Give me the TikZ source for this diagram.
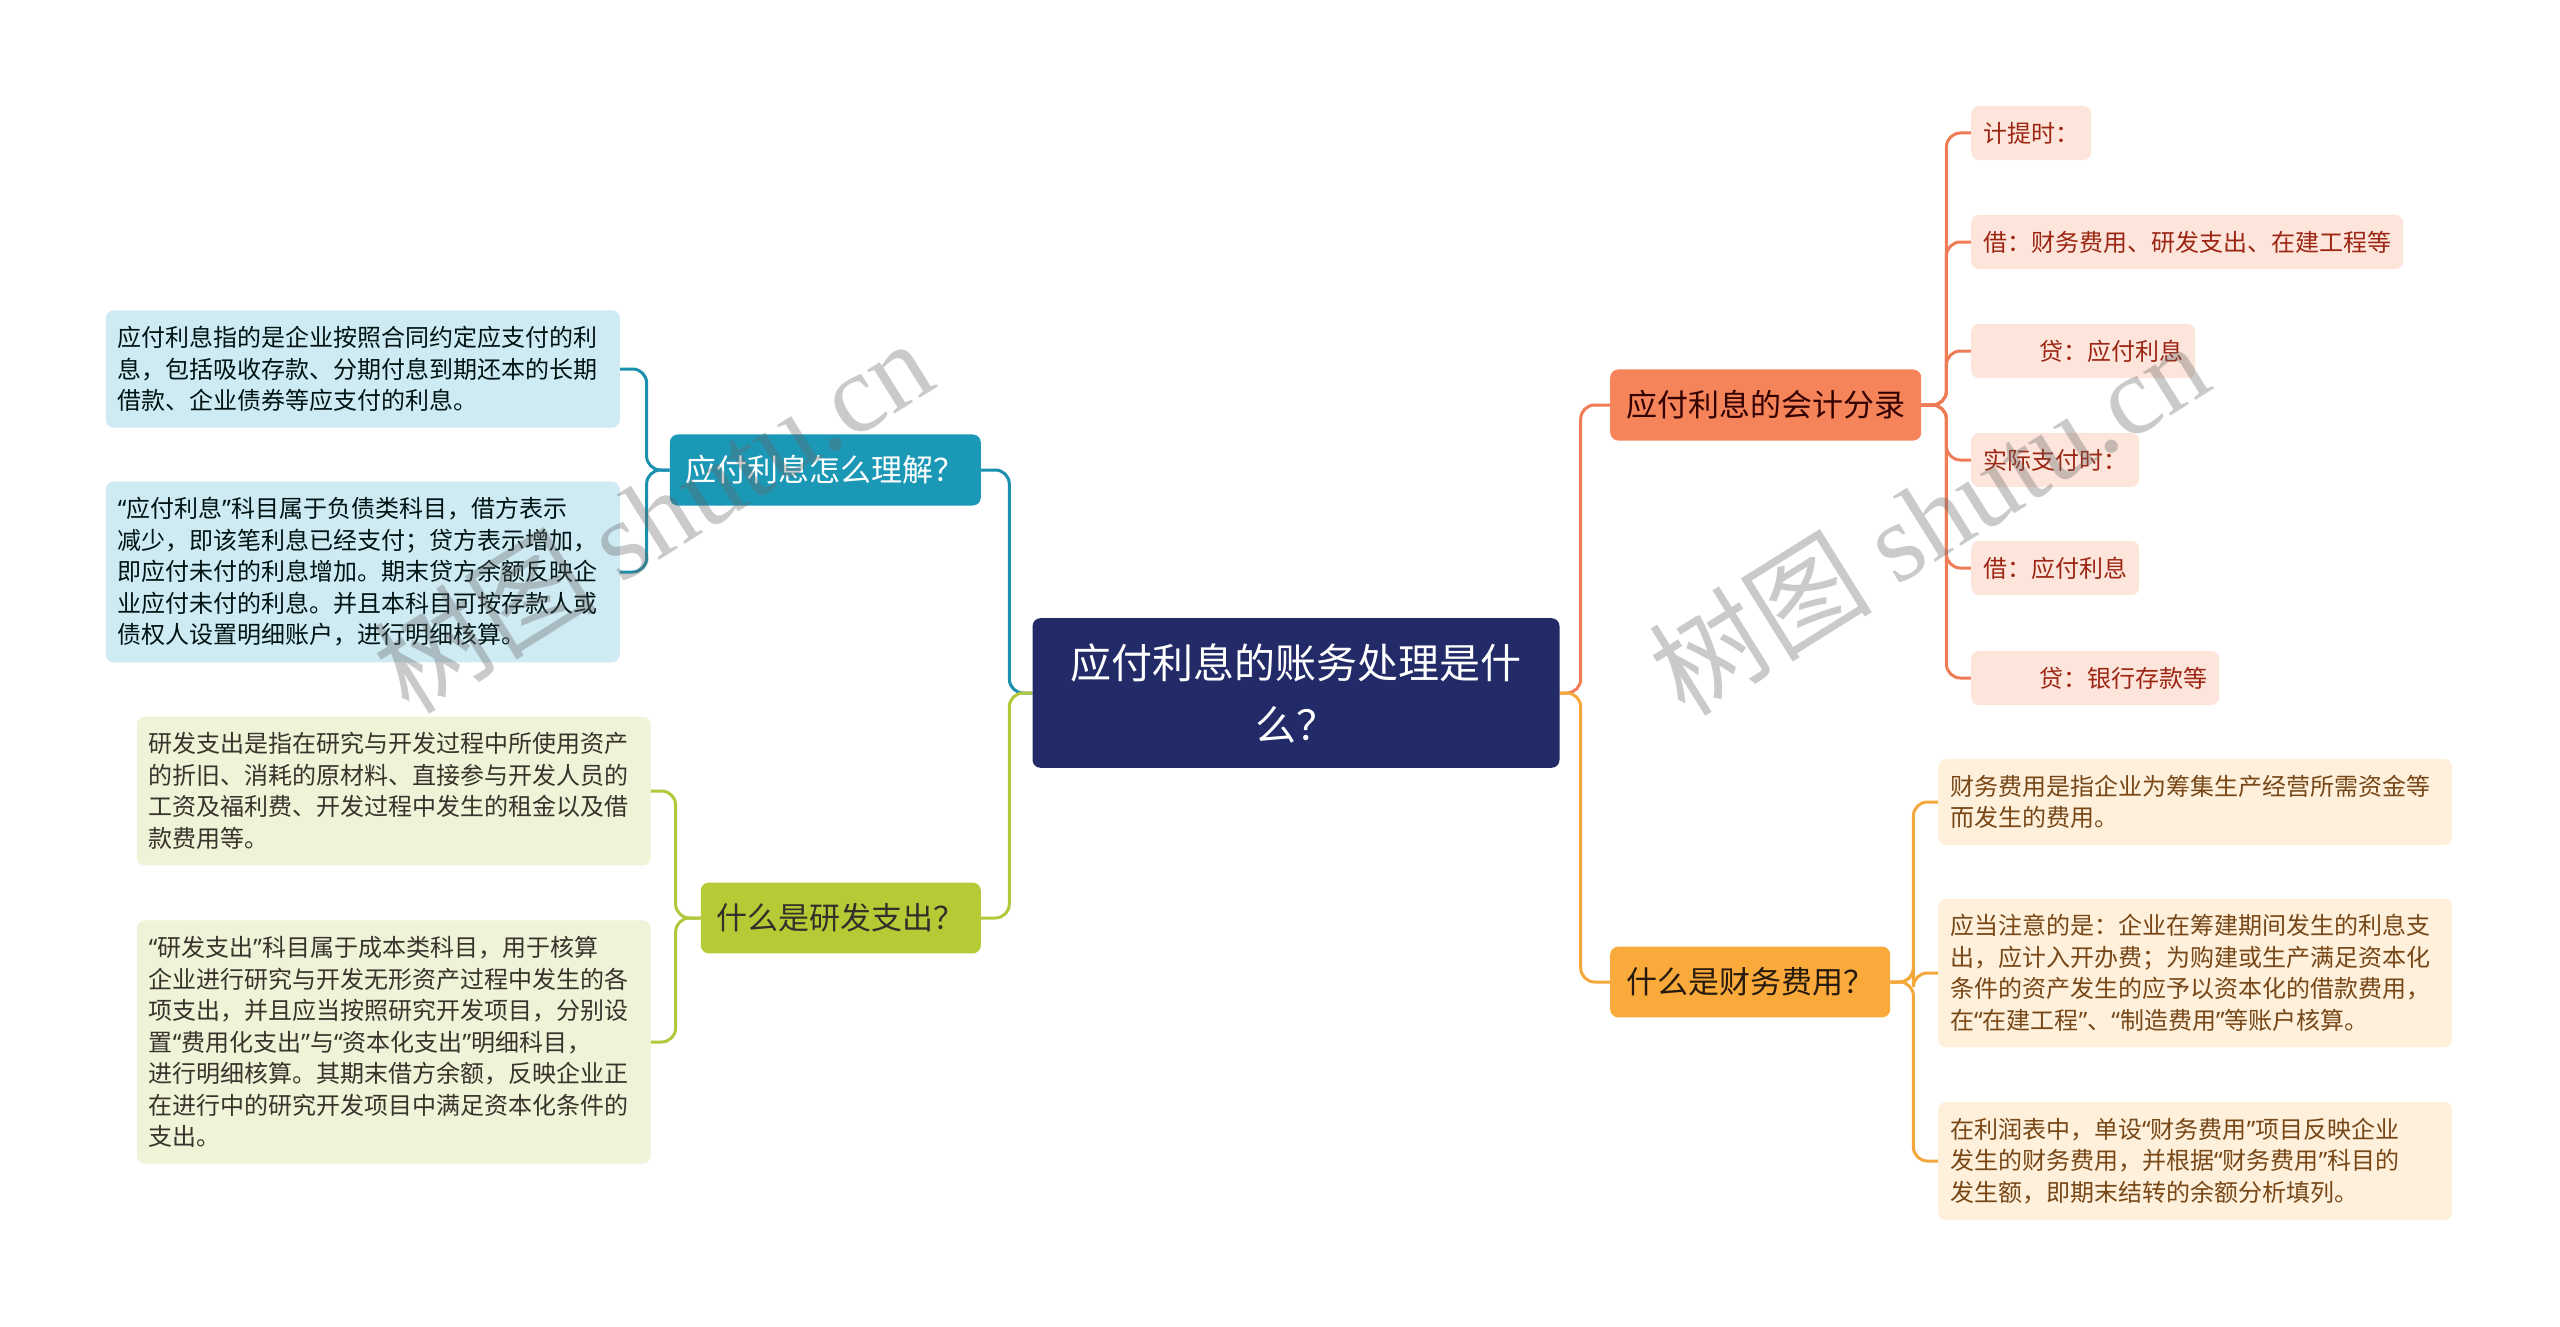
\documentclass[tikz,border=0pt]{standalone}
\usepackage{fontspec}
\setmainfont{Noto Sans CJK SC}
\newfontfamily\wmserif{Liberation Serif}
\newfontfamily\quotefont{Noto Sans}
\newcommand\openq{{\quotefont “}}
\newcommand\closeq{{\quotefont ”}}
\usepackage{xcolor}
\usepackage{tikz}
\definecolor{rootfill}{HTML}{222A67}
\definecolor{tealtop}{HTML}{1C98B7}
\definecolor{tealleaf}{HTML}{CEEAF3}
\definecolor{tealline}{HTML}{1A90AE}
\definecolor{greentop}{HTML}{B6CA36}
\definecolor{greenleaf}{HTML}{EFF3D8}
\definecolor{greenline}{HTML}{B3C73A}
\definecolor{orangetop}{HTML}{F5845B}
\definecolor{orangeleaf}{HTML}{FDE5DB}
\definecolor{orangeline}{HTML}{EE7D57}
\definecolor{yellowtop}{HTML}{F9AA3B}
\definecolor{yellowleaf}{HTML}{FEF0DA}
\definecolor{yellowline}{HTML}{F4A83B}
\tikzstyle{root}=[fill=rootfill, text=white, rounded corners=8pt, inner xsep=38pt, inner ysep=25pt, align=center, font=\fontsize{41}{62}\selectfont]
\tikzstyle{topic}=[rounded corners=8pt, inner xsep=16pt, inner ysep=21pt, font=\fontsize{31}{31}\selectfont]
\tikzstyle{teal topic}=[topic, fill=tealtop, text=white]
\tikzstyle{green topic}=[topic, fill=greentop, text=black!85!olive]
\tikzstyle{orange topic}=[topic, fill=orangetop, text=black!80!red]
\tikzstyle{yellow topic}=[topic, fill=yellowtop, text=black!80!brown]
\tikzstyle{leaf}=[rounded corners=8pt, inner xsep=12pt, inner ysep=16pt, align=left, font=\fontsize{24}{31.5}\selectfont]
\tikzstyle{long leaf}=[leaf, text width=490pt]
\tikzstyle{teal leaf}=[long leaf, fill=tealleaf, text=black!85!teal]
\tikzstyle{green leaf}=[long leaf, fill=greenleaf, text=black!80!olive]
\tikzstyle{orange leaf}=[leaf, fill=orangeleaf, text=black!45!red!70!brown]
\tikzstyle{yellow leaf}=[long leaf, fill=yellowleaf, text=black!55!brown!80!orange]
\tikzstyle{edge}=[-, line width=3pt, rounded corners=14pt]
\tikzstyle{teal edge}=[edge, draw=tealline]
\tikzstyle{green edge}=[edge, draw=greenline]
\tikzstyle{orange edge}=[edge, draw=orangeline]
\tikzstyle{yellow edge}=[edge, draw=yellowline]
\tikzstyle{wmark}=[text=black!60, text opacity=0.35, font=\fontsize{112}{112}\selectfont, rotate=32]
\pgfdeclarelayer{nodelayer}
\pgfdeclarelayer{edgelayer}
\pgfsetlayers{edgelayer,nodelayer,main}

\begin{document}
\begin{tikzpicture}[x=1pt, y=-1pt]
	\useasboundingbox (0, 0) rectangle (2560, 1327);
	\begin{pgfonlayer}{nodelayer}
		\node [style=root] (0) at (1296, 693) {应付利息的账务处理是什\\么？};
		\node [style=teal topic, anchor=east] (1) at (981, 470) {应付利息怎么理解？};
		\node [style=green topic, anchor=east] (2) at (981, 918) {什么是研发支出？};
		\node [style=orange topic, anchor=west] (3) at (1610, 405) {应付利息的会计分录};
		\node [style=yellow topic, anchor=west] (4) at (1610, 982) {什么是财务费用？};
		\node [style=teal leaf, anchor=east] (5) at (620, 369) {应付利息指的是企业按照合同约定应支付的利\\息，包括吸收存款、分期付息到期还本的长期\\借款、企业债券等应支付的利息。};
		\node [style=teal leaf, anchor=east] (6) at (620, 572) {\openq 应付利息\closeq 科目属于负债类科目，借方表示\\减少，即该笔利息已经支付；贷方表示增加，\\即应付未付的利息增加。期末贷方余额反映企\\业应付未付的利息。并且本科目可按存款人或\\债权人设置明细账户，进行明细核算。};
		\node [style=green leaf, anchor=east] (7) at (651, 791) {研发支出是指在研究与开发过程中所使用资产\\的折旧、消耗的原材料、直接参与开发人员的\\工资及福利费、开发过程中发生的租金以及借\\款费用等。};
		\node [style=green leaf, anchor=east] (8) at (651, 1042) {\openq 研发支出\closeq 科目属于成本类科目，用于核算\\企业进行研究与开发无形资产过程中发生的各\\项支出，并且应当按照研究开发项目，分别设\\置\openq 费用化支出\closeq 与\openq 资本化支出\closeq 明细科目，\\进行明细核算。其期末借方余额，反映企业正\\在进行中的研究开发项目中满足资本化条件的\\支出。};
		\node [style=orange leaf, anchor=west] (9) at (1971, 133) {计提时：};
		\node [style=orange leaf, anchor=west] (10) at (1971, 242) {借：财务费用、研发支出、在建工程等};
		\node [style=orange leaf, anchor=west] (11) at (1971, 351) {\hspace*{56pt}贷：应付利息};
		\node [style=orange leaf, anchor=west] (12) at (1971, 460) {实际支付时：};
		\node [style=orange leaf, anchor=west] (13) at (1971, 568) {借：应付利息};
		\node [style=orange leaf, anchor=west] (14) at (1971, 678) {\hspace*{56pt}贷：银行存款等};
		\node [style=yellow leaf, anchor=west] (15) at (1938, 802) {财务费用是指企业为筹集生产经营所需资金等\\而发生的费用。};
		\node [style=yellow leaf, anchor=west] (16) at (1938, 973) {应当注意的是：企业在筹建期间发生的利息支\\出，应计入开办费；为购建或生产满足资本化\\条件的资产发生的应予以资本化的借款费用，\\在\openq 在建工程\closeq 、\openq 制造费用\closeq 等账户核算。};
		\node [style=yellow leaf, anchor=west] (17) at (1938, 1161) {在利润表中，单设\openq 财务费用\closeq 项目反映企业\\发生的财务费用，并根据\openq 财务费用\closeq 科目的\\发生额，即期末结转的余额分析填列。};
	\end{pgfonlayer}
	\begin{pgfonlayer}{edgelayer}
		\draw [style=teal edge] (0.west) -- ++(-23, 0) |- (1.east);
		\draw [style=green edge] (0.west) -- ++(-23, 0) |- (2.east);
		\draw [style=orange edge] (0.east) -- ++(21, 0) |- (3.west);
		\draw [style=yellow edge] (0.east) -- ++(21, 0) |- (4.west);
		\draw [style=teal edge] (1.west) -- ++(-23, 0) |- (5.east);
		\draw [style=teal edge] (1.west) -- ++(-23, 0) |- (6.east);
		\draw [style=green edge] (2.west) -- ++(-25, 0) |- (7.east);
		\draw [style=green edge] (2.west) -- ++(-25, 0) |- (8.east);
		\draw [style=orange edge] (3.east) -- ++(25, 0) |- (9.west);
		\draw [style=orange edge] (3.east) -- ++(25, 0) |- (10.west);
		\draw [style=orange edge] (3.east) -- ++(25, 0) |- (11.west);
		\draw [style=orange edge] (3.east) -- ++(25, 0) |- (12.west);
		\draw [style=orange edge] (3.east) -- ++(25, 0) |- (13.west);
		\draw [style=orange edge] (3.east) -- ++(25, 0) |- (14.west);
		\draw [style=yellow edge] (4.east) -- ++(23, 0) |- (15.west);
		\draw [style=yellow edge] (4.east) -- ++(23, 0) |- (16.west);
		\draw [style=yellow edge] (4.east) -- ++(23, 0) |- (17.west);
	\end{pgfonlayer}
	% watermarks
	\node [style=wmark] (18) at (652, 515) {树图 {\wmserif shutu.cn}};
	\node [style=wmark] (19) at (1928, 517) {树图 {\wmserif shutu.cn}};
\end{tikzpicture}
\end{document}
